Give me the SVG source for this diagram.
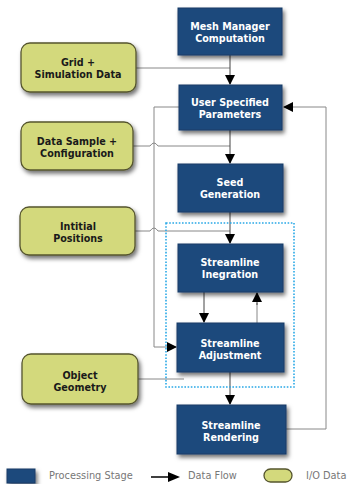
<svg xmlns="http://www.w3.org/2000/svg" width="349" height="484" viewBox="0 0 349 484">
<style>
.proc{fill:#1f4a7c;stroke:#163a66;stroke-width:1}
.io{fill:#d3d97c;stroke:#55552e;stroke-width:1.3}
.pt{font-family:"DejaVu Sans",Verdana,sans-serif;font-weight:bold;font-size:9.6px;fill:#ffffff;text-anchor:middle}
.it{font-family:"DejaVu Sans",Verdana,sans-serif;font-weight:bold;font-size:9.6px;fill:#1a1a1a;text-anchor:middle}
.lt{font-family:"DejaVu Sans",Verdana,sans-serif;font-size:9.8px;fill:#777777}
.c{fill:none;stroke:#888888;stroke-width:1}
.ca{fill:none;stroke:#444444;stroke-width:1}
</style>
<defs>
<filter id="sh" x="-20%" y="-20%" width="150%" height="160%">
<feDropShadow dx="2" dy="3" stdDeviation="2" flood-color="#000" flood-opacity="0.55"/>
</filter>
<marker id="ah" markerWidth="10" markerHeight="10" refX="9" refY="5" orient="auto" markerUnits="userSpaceOnUse">
<path d="M0,0 L10,5 L0,10 z" fill="#000"/>
</marker>
</defs>
<rect width="349" height="484" fill="#ffffff"/>
<g id="connectors">
<path class="c" d="M136,68 H230"/>
<path class="ca" d="M230,55 V84" marker-end="url(#ah)"/>
<path class="c" d="M179,107 H154 V347 H176" marker-end="url(#ah)"/>
<path class="c" d="M285,429 H326 V107 H284" marker-end="url(#ah)"/>
<path class="c" d="M133,146 H150 Q154,140 158,146 H230"/>
<path class="ca" d="M230,130 V163" marker-end="url(#ah)"/>
<path class="c" d="M135,231 H150 Q154,225 158,231 H230"/>
<path class="ca" d="M230,212 V243" marker-end="url(#ah)"/>
<path class="ca" d="M204,292 V322" marker-end="url(#ah)"/>
<path class="c" d="M257,323 V303"/>
<path class="ca" d="M257,305 V293" marker-end="url(#ah)"/>
<path class="c" d="M138,379 H184"/>
<path class="ca" d="M230,372 V404" marker-end="url(#ah)"/>
</g>
<rect x="166" y="223" width="128" height="164" fill="none" stroke="#29a8e6" stroke-width="1.6" stroke-dasharray="1.6,1.6"/>
<g id="mesh"><rect class="proc" x="178" y="8" width="104" height="47" filter="url(#sh)"/><text class="pt" x="230" y="30">Mesh Manager</text><text class="pt" x="230" y="42">Computation</text></g>
<g id="grid"><rect class="io" x="21" y="43" width="115" height="49" rx="9" filter="url(#sh)"/><text class="it" x="78" y="66">Grid +</text><text class="it" x="78" y="78">Simulation Data</text></g>
<g id="user"><rect class="proc" x="179" y="85" width="103" height="45" filter="url(#sh)"/><text class="pt" x="230" y="106">User Specified</text><text class="pt" x="230" y="118">Parameters</text></g>
<g id="datasample"><rect class="io" x="21" y="122" width="112" height="48" rx="9" filter="url(#sh)"/><text class="it" x="77" y="145">Data Sample +</text><text class="it" x="77" y="157">Configuration</text></g>
<g id="seed"><rect class="proc" x="178" y="164" width="105" height="48" filter="url(#sh)"/><text class="pt" x="230" y="186">Seed</text><text class="pt" x="230" y="198">Generation</text></g>
<g id="initial"><rect class="io" x="20" y="207" width="115" height="48" rx="9" filter="url(#sh)"/><text class="it" x="78" y="230">Intitial</text><text class="it" x="78" y="242">Positions</text></g>
<g id="integration"><rect class="proc" x="178" y="244" width="105" height="48" filter="url(#sh)"/><text class="pt" x="230" y="266">Streamline</text><text class="pt" x="230" y="278">Inegration</text></g>
<g id="adjustment"><rect class="proc" x="177" y="323" width="107" height="49" filter="url(#sh)"/><text class="pt" x="230" y="347">Streamline</text><text class="pt" x="230" y="359">Adjustment</text></g>
<g id="object"><rect class="io" x="22" y="354" width="116" height="50" rx="9" filter="url(#sh)"/><text class="it" x="80" y="379">Object</text><text class="it" x="80" y="391">Geometry</text></g>
<g id="rendering"><rect class="proc" x="177" y="405" width="109" height="49" filter="url(#sh)"/><text class="pt" x="231" y="429">Streamline</text><text class="pt" x="231" y="441">Rendering</text></g>
<g id="legend">
<rect class="proc" x="7" y="469" width="28" height="14" filter="url(#sh)"/>
<text class="lt" x="49" y="479">Processing Stage</text>
<path d="M151,477 H171" stroke="#000" stroke-width="1.5"/>
<path d="M168,472 L180,477 L168,482 z" fill="#000"/>
<text class="lt" x="188" y="479">Data Flow</text>
<rect class="io" x="264" y="469" width="28" height="13" rx="6.5"/>
<text class="lt" x="306" y="479">I/O Data</text>
</g>
</svg>
